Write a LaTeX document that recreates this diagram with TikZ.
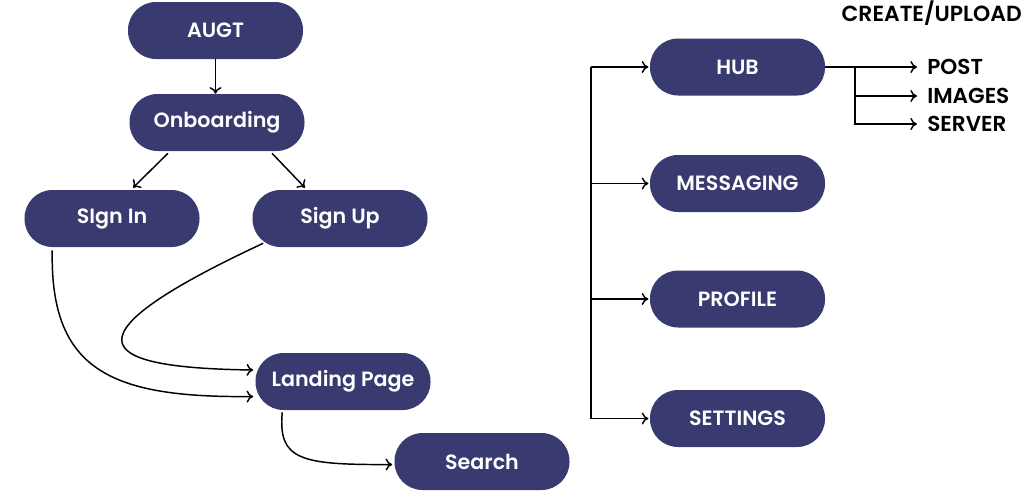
\documentclass[tikz,border=0pt]{standalone}
\usepackage{fontspec}
\setmainfont{Poppins}[BoldFont={Poppins SemiBold}]
\usetikzlibrary{calc,arrows.meta}
\definecolor{boxnavy}{RGB}{56,58,112}

\tikzset{
  flowbox/.style={fill=boxnavy, text=white, rounded corners=21pt,
    minimum width=131.25pt, minimum height=42.75pt,
    font=\fontsize{15.5}{17}\selectfont\bfseries},
  sidelabel/.style={anchor=west, inner xsep=7.5pt, inner ysep=0pt,
    font=\fontsize{16.2}{18}\selectfont\bfseries},
  arr/.style={-{To[length=5pt,width=9pt]}, line width=1.1pt}
}

\begin{document}
\begin{tikzpicture}[x=0.75pt, y=-0.75pt]
  \useasboundingbox (0,0) rectangle (1024,497);

  % left column: sign-up flow
  \node[flowbox] (augt) at (215.5, 30.5) {AUGT};
  \node[flowbox] (onb)  at (217, 122.5) {Onboarding};
  \node[flowbox] (sin)  at (112, 218.5) {SIgn In};
  \node[flowbox] (sup)  at (340, 218.5) {Sign Up};
  \node[flowbox] (land) at (343, 381.5) {Landing Page};
  \node[flowbox] (srch) at (482, 461.5) {Search};

  \draw[arr] (augt.south) -- (augt.south |- onb.north);
  \draw[arr] ($(onb.south)+(-49,2)$) -- ($(sin.north)+(21,-2)$);
  \draw[arr] ($(onb.south)+(55,2)$) -- ($(sup.north)+(-35,-2)$);
  \draw[arr] ($(sin.south west)+(28,3)$) .. controls (50,370) and (110,398) .. ($(land.west)+(-2,15)$);
  \draw[arr] ($(sup.south west)+(11,-4)$) .. controls (45,345) and (110,368) .. ($(land.west)+(-2,-11.5)$);
  \draw[arr] ($(land.south west)+(27,2)$) .. controls (278,460) and (300,465) .. ($(srch.west)+(-2,3)$);

  % right column: main sections
  \node[flowbox] (hub)  at (737.5, 67)    {HUB};
  \node[flowbox] (msg)  at (737.5, 183.5) {MESSAGING};
  \node[flowbox] (prof) at (737.5, 299)   {PROFILE};
  \node[flowbox] (set)  at (737.5, 418.5) {SETTINGS};

  \coordinate (trunk) at (591, 67);
  \draw[arr, shorten >=1pt] (trunk) -- (hub.west);
  \draw[arr, shorten >=1pt] (trunk |- msg.west) -- (msg.west);
  \draw[arr, shorten >=1pt] (trunk |- prof.west) -- (prof.west);
  \draw[arr, shorten >=1pt] (trunk) |- (set.west);

  % create/upload options
  \node[anchor=east, inner sep=0pt, font=\fontsize{16.4}{18}\selectfont\bfseries] (cu) at (1022, 13) {CREATE/UPLOAD};
  \node[sidelabel] (post) at (917, 67)  {POST};
  \node[sidelabel] (img)  at (917, 96)  {IMAGES};
  \node[sidelabel] (srv)  at (917, 124) {SERVER};

  \coordinate (br) at (855, 67);
  \draw[arr] (hub.east) -- (post.west);
  \draw[arr] (br |- img.west) -- (img.west);
  \draw[arr] (br) |- (srv.west);
\end{tikzpicture}
\end{document}
